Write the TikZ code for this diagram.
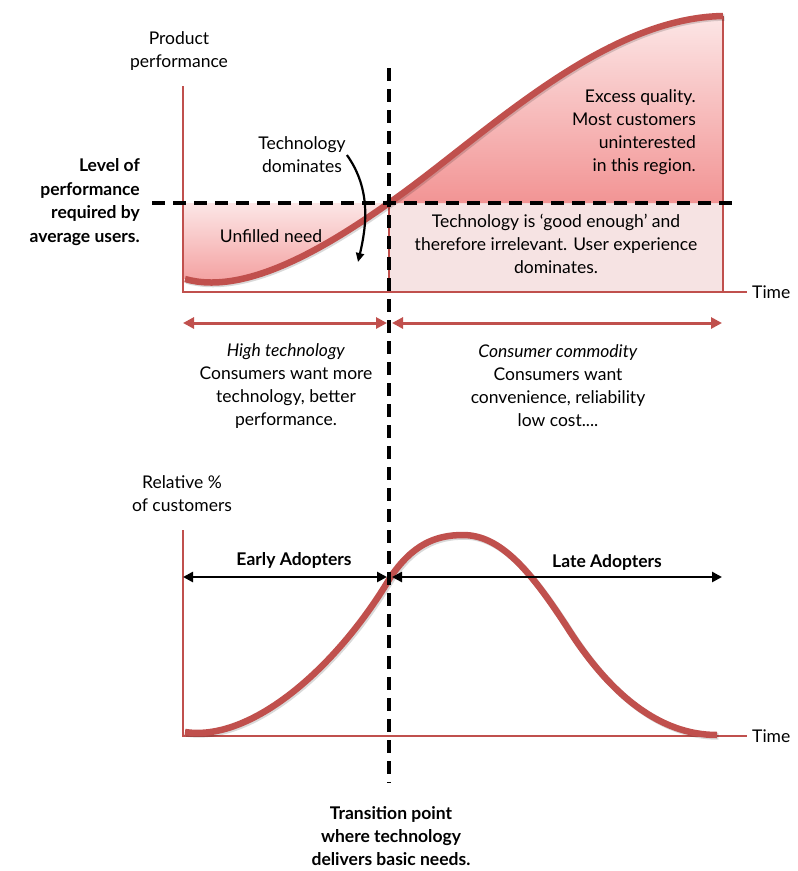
\documentclass[tikz,border=0pt]{standalone}
\usepackage{fontspec}
\setmainfont{Lato}
\usetikzlibrary{arrows.meta}
\usetikzlibrary{positioning}

\definecolor{curvered}{HTML}{C0504D}
\definecolor{pinktop}{HTML}{FCE6E6}
\definecolor{pinkbot}{HTML}{F29494}
\definecolor{pinkgrey}{HTML}{F6E3E3}

\begin{document}
\begin{tikzpicture}[x=1pt,y=-1pt,
  every node/.style={font=\fontsize{17.5}{23}\selectfont,inner sep=1pt},
  axisline/.style={curvered,line width=1.6pt},
  bigcurve/.style={curvered,line width=6.5pt},
  curveshadow/.style={black,opacity=0.15,line width=6.5pt},
  guide/.style={black,line width=3.4pt,dash pattern=on 13pt off 8pt},
  redarrow/.style={curvered,line width=3pt,{Triangle[length=11pt,width=11pt]}-{Triangle[length=11pt,width=11pt]}},
  blackarrow/.style={black,line width=2.6pt,{Triangle[length=10pt,width=10pt]}-{Triangle[length=10pt,width=10pt]}}]
\useasboundingbox (0,0) rectangle (798,871);

\coordinate (o1) at (183,292);
\coordinate (ytop1) at (183,86);
\coordinate (xend1) at (747,292);
\coordinate (o2) at (183,736);
\coordinate (ytop2) at (183,530);
\coordinate (xend2) at (747,736);
\coordinate (vtop) at (389,68);
\coordinate (vbot) at (389,783);
\coordinate (hleft) at (152,203);
\coordinate (hright) at (732,203);

% shaded regions of the top chart
\fill[pinkgrey] (389,203) rectangle (723,292);
\shade[top color=pinktop,bottom color=pinkbot]
  (389,203) .. controls (480,140) and (600,18) .. (723,16) -- (723,203) -- cycle;
\shade[top color=pinktop,bottom color=pinkbot]
  (183,203) -- (389,203) .. controls (325,248) and (245,296) .. (185,279) -- (183,279) -- cycle;
\draw[axisline,line width=1.2pt] (389,203) -- (389,292);
\draw[axisline,line width=1.2pt] (723,16) -- (723,292);

\draw[axisline] (ytop1) -- (o1) -- (xend1);
\draw[axisline] (ytop2) -- (o2) -- (xend2);

\draw[curveshadow,shift={(1.5,1.5)}] (185,279) .. controls (245,296) and (325,248) .. (389,203)
  .. controls (480,140) and (600,18) .. (723,16);
\draw[bigcurve] (185,279) .. controls (245,296) and (325,248) .. (389,203)
  .. controls (480,140) and (600,18) .. (723,16);

\draw[curveshadow,shift={(1.5,1.5)}] (185,732) .. controls (250,742) and (335,670) .. (390,578)
  .. controls (412,545) and (435,535) .. (463,535) .. controls (500,535) and (530,570) .. (567,627)
  .. controls (610,695) and (660,735) .. (717,735);
\draw[bigcurve] (185,732) .. controls (250,742) and (335,670) .. (390,578)
  .. controls (412,545) and (435,535) .. (463,535) .. controls (500,535) and (530,570) .. (567,627)
  .. controls (610,695) and (660,735) .. (717,735);

\draw[guide] (hleft) -- (hright);
\draw[guide] (vtop) -- (vbot);

\node[right=4pt of xend1] (timetop) {Time};
\node[right=4pt of xend2] (timebot) {Time};

\node[align=center] (prodlbl) at (179,51) {Product\\performance};
\node[align=right,anchor=east,font=\fontsize{17.5}{23.5}\selectfont\bfseries] (levellbl) at (141,202)
  {Level of\\performance\\required by\\average users.};
\node[align=center] (techdom) at (302,155) {Technology\\dominates};
\coordinate (techtip) at (358,262);
\draw[black,line width=2.2pt,-{Triangle[length=9pt,width=8pt]}] (techdom.east) .. controls (372,190) and (366,228) .. (techtip);
\node (unfilled) at (271,236) {Unfilled need};
\node[align=right,anchor=east] (excess) at (697,132)
  {Excess quality.\\Most customers\\uninterested\\in this region.};
\node[align=center] (goodenough) at (556,244)
  {Technology is ‘good enough’ and\\therefore irrelevant. User experience\\dominates.};

\coordinate (la) at (183,323);
\coordinate (lm) at (387,323);
\coordinate (rm) at (392,323);
\coordinate (ra) at (722,323);
\foreach \a/\b in {la/lm,rm/ra}
  \draw[redarrow] (\a) -- (\b);

\node[align=center] (hightech) at (286,386)
  {\textit{High technology}\\Consumers want more\\technology, better\\performance.};
\node[align=center] (commodity) at (558,386)
  {\textit{Consumer commodity}\\Consumers want\\convenience, reliability\\low cost....};

\node[align=center] (rellbl) at (182,494) {Relative \%\\of customers};

\coordinate (ea) at (183,577);
\coordinate (em) at (387,577);
\coordinate (lam) at (392,577);
\coordinate (lae) at (722,577);
\foreach \a/\b in {ea/em,lam/lae}
  \draw[blackarrow] (\a) -- (\b);
\node[font=\fontsize{17.5}{23}\selectfont\bfseries] (earlylbl) at (294,560) {Early Adopters};
\node[font=\fontsize{17.5}{23}\selectfont\bfseries] (latelbl) at (607,562) {Late Adopters};

\node[align=center,font=\fontsize{17.5}{23}\selectfont\bfseries] (transition) at (391,836)
  {Transition point\\where technology\\delivers basic needs.};
\end{tikzpicture}
\end{document}
